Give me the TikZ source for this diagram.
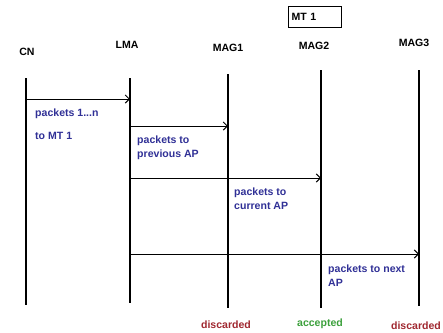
\documentclass[tikz,border=0pt]{standalone}
\usepackage{fontspec}
\setmainfont{Liberation Sans}
\usetikzlibrary{arrows.meta, positioning}
\definecolor{msgblue}{RGB}{48,48,150}
\definecolor{dropred}{RGB}{160,40,48}
\definecolor{okgreen}{RGB}{60,160,60}

\begin{document}
\begin{tikzpicture}[x=0.03cm, y=-0.03cm,
    font=\bfseries\fontsize{9}{12}\selectfont,
    lifeline/.style={line width=1.4pt},
    msg/.style={line width=0.8pt, -{Straight Barb[length=3.5pt,width=7pt]}},
    msgtext/.style={text=msgblue, align=left, anchor=north west, inner sep=0pt}]
    \useasboundingbox (0,0) rectangle (443,333);

    % Entities on top
    \node (cn) at (27,52) {CN};
    \node (lma) at (127,45) {LMA};
    \node (mag1) at (228,48) {MAG1};
    \node (mag2) at (314,46) {MAG2};
    \node (mag3) at (414,43) {MAG3};
    \node[draw, line width=0.8pt, text width=1.4cm, minimum height=0.63cm, inner sep=3pt] (mt) at (315,17) {MT 1};

    % Lifelines
    \coordinate (cnTop) at (26,78);   \coordinate (cnBot) at (26,305);
    \coordinate (lmaTop) at (130,78); \coordinate (lmaBot) at (130,303);
    \coordinate (m1Top) at (228,74);  \coordinate (m1Bot) at (228,308);
    \coordinate (m2Top) at (321,70);  \coordinate (m2Bot) at (321,308);
    \coordinate (m3Top) at (419,70);  \coordinate (m3Bot) at (419,306);
    \draw[lifeline] (cnTop) -- (cnBot);
    \draw[lifeline] (lmaTop) -- (lmaBot);
    \draw[lifeline] (m1Top) -- (m1Bot);
    \draw[lifeline] (m2Top) -- (m2Bot);
    \draw[lifeline] (m3Top) -- (m3Bot);

    % Packets from CN to LMA
    \coordinate (a1) at (26,99);  \coordinate (b1) at (130,99);
    \draw[msg] (a1) -- (b1);
    \node[msgtext] (t1) at (35,109) {packets 1...n\\[7pt]to MT 1};

    % LMA forwards to the three MAGs
    \coordinate (a2) at (130,126); \coordinate (b2) at (228,126);
    \draw[msg] (a2) -- (b2);
    \node[msgtext] (t2) at (137,136) {packets to\\previous AP};

    \coordinate (a3) at (130,178); \coordinate (b3) at (321,178);
    \draw[msg] (a3) -- (b3);
    \node[msgtext] (t3) at (234,188) {packets to\\current AP};

    \coordinate (a4) at (130,254); \coordinate (b4) at (419,254);
    \draw[msg] (a4) -- (b4);
    \node[msgtext] (t4) at (328,265) {packets to next\\AP};

    % Outcome at each MAG
    \node[text=dropred] (d1) at (226,325) {discarded};
    \node[text=okgreen] (ok) at (320,324) {accepted};
    \node[text=dropred] (d3) at (416,326) {discarded};
\end{tikzpicture}
\end{document}
